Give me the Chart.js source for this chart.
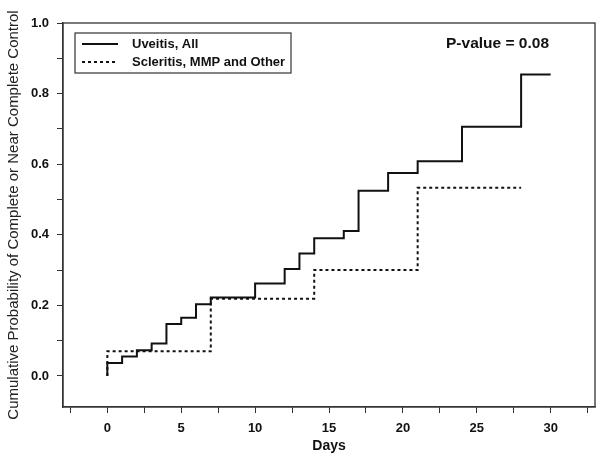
<!DOCTYPE html>
<html>
<head>
<meta charset="utf-8">
<script src="https://cdn.jsdelivr.net/npm/chart.js@4.4.1/dist/chart.umd.min.js"></script>
<style>
  body { margin: 0; background: #fff; }
</style>
</head>
<body>
<canvas id="myChart" width="600" height="462"></canvas>
<script>
// step curves (day, cumulative probability)
var uveitisDays = [0, 0, 1, 2, 3, 4, 5, 6, 7, 10, 12, 13, 14, 16, 17, 19, 21, 24, 28, 30];
var uveitisProb = [0, 0.037, 0.055, 0.073, 0.092, 0.147, 0.165, 0.203, 0.222, 0.262, 0.303, 0.347, 0.390, 0.411, 0.525, 0.575, 0.608, 0.706, 0.854, 0.854];
var otherDays = [0, 0, 7, 14, 21, 28];
var otherProb = [0, 0.070, 0.219, 0.300, 0.533, 0.533];

var seriesLabels = ['Uveitis, All', 'Scleritis, MMP and Other'];
var xTicks = [-2.5, 0, 2.5, 5, 7.5, 10, 12.5, 15, 17.5, 20, 22.5, 25, 27.5, 30, 32.5];
var yTicks = [0, 0.1, 0.2, 0.3, 0.4, 0.5, 0.6, 0.7, 0.8, 0.9, 1.0];
var pValueText = 'P-value = 0.08';

var FONT = '"Liberation Sans", Arial, sans-serif';
Chart.defaults.font.family = FONT;
Chart.defaults.color = '#111';

function toPoints(days, vals) {
    var pts = [];
    for (var i = 0; i < days.length; i++) {
        pts.push({ x: days[i], y: vals[i] });
    }
    return pts;
}

// box round the plot, legend and p-value
var framePlugin = {
    id: 'framePlugin',
    afterDatasetsDraw: function (chart) {
        var ctx = chart.ctx;
        var a = chart.chartArea;
        ctx.save();
        ctx.strokeStyle = '#333';
        ctx.lineWidth = 1.3;
        ctx.strokeRect(a.left, a.top, a.right - a.left, a.bottom - a.top);

        var bx = a.left + 12, by = a.top + 10;
        ctx.lineWidth = 1.2;
        ctx.strokeRect(bx, by, 216, 40);
        ctx.font = 'bold 13px ' + FONT;
        ctx.fillStyle = '#111';
        ctx.textBaseline = 'middle';
        chart.data.datasets.forEach(function (ds, i) {
            var ly = by + 11 + i * 18;
            ctx.beginPath();
            ctx.lineWidth = 2;
            ctx.strokeStyle = '#111';
            ctx.setLineDash(ds.borderDash || []);
            ctx.moveTo(bx + 7, ly);
            ctx.lineTo(bx + 43, ly);
            ctx.stroke();
            ctx.setLineDash([]);
            ctx.fillText(ds.label, bx + 57, ly);
        });

        ctx.font = 'bold 15.5px ' + FONT;
        ctx.textAlign = 'right';
        ctx.fillText(pValueText, 549, 44);
        ctx.restore();
    }
};

const ctx = document.getElementById('myChart').getContext('2d');
const myChart = new Chart(ctx, {
    type: 'line',
    data: {
        datasets: [{
            label: seriesLabels[0],
            data: toPoints(uveitisDays, uveitisProb),
            borderColor: '#111',
            borderWidth: 2,
            stepped: true,
            pointRadius: 0,
            fill: false
        }, {
            label: seriesLabels[1],
            data: toPoints(otherDays, otherProb),
            borderColor: '#111',
            borderWidth: 2,
            borderDash: [3, 3],
            stepped: true,
            pointRadius: 0,
            fill: false
        }]
    },
    options: {
        responsive: false,
        animation: false,
        layout: { padding: { top: 23, right: 5, bottom: 0, left: 0 } },
        plugins: {
            legend: { display: false },
            tooltip: { enabled: false }
        },
        scales: {
            x: {
                type: 'linear',
                min: -3,
                max: 33,
                afterBuildTicks: function (scale) {
                    scale.ticks = xTicks.map(function (v) { return { value: v }; });
                },
                afterFit: function (scale) { scale.height = 55; },
                ticks: {
                    autoSkip: false,
                    maxRotation: 0,
                    padding: 8,
                    font: { size: 13, weight: 'bold' },
                    callback: function (v) { return v % 5 === 0 ? String(v) : ''; }
                },
                grid: { drawOnChartArea: false, drawTicks: true, tickLength: 6, color: '#333' },
                border: { display: true, color: '#333', width: 1.3 },
                title: {
                    display: true,
                    text: 'Days',
                    font: { size: 14, weight: 'bold' },
                    padding: { top: 0, bottom: 7 }
                }
            },
            y: {
                min: -0.088,
                max: 1.0,
                afterBuildTicks: function (scale) {
                    scale.ticks = yTicks.map(function (v) { return { value: v }; });
                },
                afterFit: function (scale) { scale.width = 63; },
                ticks: {
                    autoSkip: false,
                    padding: 8,
                    font: { size: 13, weight: 'bold' },
                    callback: function (v) {
                        return Math.round(v * 10) % 2 === 0 ? v.toFixed(1) : '';
                    }
                },
                grid: { drawOnChartArea: false, drawTicks: true, tickLength: 6, color: '#333' },
                border: { display: true, color: '#333', width: 1.3 },
                title: {
                    display: true,
                    text: 'Cumulative Probability of Complete or Near Complete Control',
                    font: { size: 15 },
                    color: '#222',
                    padding: { top: 5, bottom: 0 }
                }
            }
        }
    },
    plugins: [framePlugin]
});
</script>
</body>
</html>
